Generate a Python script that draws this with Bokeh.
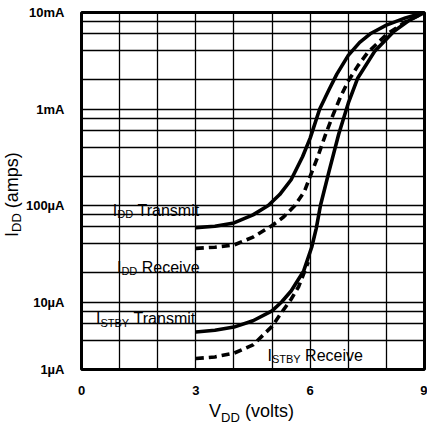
from bokeh.plotting import figure
from bokeh.models import FixedTicker, Label, Range1d, Div
from bokeh.layouts import column, row
from bokeh.embed import file_html
from bokeh.resources import INLINE

# ---------------- data ----------------
idd_tx_v = [3.0, 3.5, 4.0, 4.5, 4.9, 5.2, 5.5, 5.8, 6.0, 6.25, 6.5, 6.7, 7.0, 7.3, 7.6, 8.0, 8.5, 9.0]
idd_tx_i = [5.9e-5, 6.1e-5, 6.6e-5, 8.0e-5, 1.0e-4, 1.3e-4, 1.85e-4, 3.2e-4, 5.0e-4, 1.0e-3,
            1.6e-3, 2.3e-3, 3.6e-3, 4.9e-3, 6.1e-3, 7.4e-3, 8.8e-3, 1.0e-2]

idd_rx_v = [3.0, 3.5, 4.0, 4.5, 5.0, 5.3, 5.6, 5.85, 6.0, 6.2, 6.4, 6.6, 6.8, 7.0, 7.25, 7.5, 8.0, 8.5, 9.0]
idd_rx_i = [3.6e-5, 3.7e-5, 3.9e-5, 4.7e-5, 6.2e-5, 7.6e-5, 1.0e-4, 1.4e-4, 2.0e-4, 3.2e-4,
            5.4e-4, 8.7e-4, 1.35e-3, 1.95e-3, 2.8e-3, 3.8e-3, 5.9e-3, 8.0e-3, 1.0e-2]

stby_tx_v = [3.0, 3.5, 4.0, 4.5, 5.0, 5.25, 5.5, 5.83, 6.04, 6.16, 6.27, 6.5, 6.75, 7.0, 7.25, 7.7, 8.2, 8.6, 9.0]
stby_tx_i = [4.9e-6, 5.1e-6, 5.5e-6, 6.4e-6, 8.1e-6, 1.0e-5, 1.3e-5, 2.1e-5, 3.7e-5, 5.8e-5,
             1.0e-4, 2.3e-4, 5.5e-4, 1.15e-3, 2.1e-3, 4.0e-3, 6.4e-3, 8.3e-3, 1.0e-2]

stby_rx_v = [3.0, 3.5, 4.0, 4.5, 5.0, 5.25, 5.5, 5.7, 5.95]
stby_rx_i = [2.6e-6, 2.7e-6, 2.95e-6, 3.6e-6, 5.6e-6, 7.8e-6, 1.07e-5, 1.45e-5, 2.6e-5]

x_ticks = [0, 3, 6, 9]
y_ticks = [2e-6, 1e-5, 1e-4, 1e-3, 1e-2]
y_tick_labels = ["1µA", "10µA", "100µA", "1mA", "10mA"]

x_grid = list(range(0, 10))
y_grid = [m * 10.0 ** k for k in range(-6, -2) for m in (1, 2, 4, 6, 8)
          if 2e-6 <= m * 10.0 ** k <= 1e-2] + [1e-2]

# curve label texts: (main, subscript, rest)
label_texts = [("I", "DD", "Transmit"), ("I", "DD", "Receive"),
               ("I", "STBY", "Transmit"), ("I", "STBY", "Receive")]
x_title = ("V", "DD", "(volts)")
y_title = ("I", "DD", "(amps)")

# ---------------- styling / layout ----------------
FONT = "Liberation Sans"
W = {'I': 278, 'D': 722, 'T': 611, 'r': 333, 'a': 556, 'n': 556, 's': 500, 'm': 833,
     'i': 222, 't': 278, ' ': 278, 'R': 722, 'e': 556, 'c': 500, 'v': 500, 'S': 667,
     'B': 667, 'Y': 667, 'V': 667, '(': 333, ')': 333, 'o': 556, 'l': 222, 'p': 556}


def tw(s, size):
    return sum(W.get(c, 556) for c in s) * size / 1000.0


P_H = 397
p = figure(width=405, height=P_H, x_range=Range1d(0, 9), y_range=Range1d(2e-6, 1e-2),
           y_axis_type="log", output_backend="svg", toolbar_location=None,
           min_border_left=57, min_border_right=3, min_border_top=12, min_border_bottom=25)
p.margin = (0, 0, 0, 0)
p.background_fill_color = "white"
p.border_fill_color = "white"
p.outline_line_color = "black"
p.outline_line_width = 3

for ax in (p.xaxis, p.yaxis):
    ax.axis_line_color = None
    ax.major_tick_line_color = None
    ax.minor_tick_line_color = None
    ax.major_label_text_font = FONT
    ax.major_label_text_font_style = "bold"
    ax.major_label_text_font_size = "13px"
    ax.major_label_text_color = "black"

p.xaxis.ticker = FixedTicker(ticks=x_ticks)
p.xaxis.major_label_standoff = 10
p.yaxis.ticker = FixedTicker(ticks=y_ticks)
p.yaxis.major_label_overrides = dict(zip(y_ticks, y_tick_labels))
p.yaxis.major_label_standoff = 11

p.xgrid.ticker = FixedTicker(ticks=x_grid)
p.ygrid.ticker = FixedTicker(ticks=y_grid)
for g in (p.xgrid, p.ygrid):
    g.grid_line_color = "black"
    g.grid_line_width = 1.3
    g.grid_line_alpha = 1.0

LW = 3.6
p.line(idd_tx_v, idd_tx_i, line_color="black", line_width=LW)
p.line(idd_rx_v, idd_rx_i, line_color="black", line_width=LW, line_dash="8 5")
p.line(stby_tx_v, stby_tx_i, line_color="black", line_width=LW)
p.line(stby_rx_v, stby_rx_i, line_color="black", line_width=LW, line_dash="8 5")


def composite(x, y, parts, size, sub_size, sub_drop):
    """Draw main text + subscript + rest as adjacent labels on a white box."""
    main, sub, rest = parts
    pieces = [(main, size, 0.0, 0.0), (sub, sub_size, -sub_drop, 0.0),
              (rest, size, 0.0, tw(" ", size))]
    adv = 0.0
    specs = []
    for text, fs, drop, gap in pieces:
        adv += gap
        specs.append(dict(x=x, y=y, text=text, text_font=FONT, text_font_size=f"{fs}px",
                          text_color="black", text_align="left", text_baseline="middle",
                          x_offset=adv, y_offset=drop))
        adv += tw(text, fs)
    for kw in specs:
        p.add_layout(Label(**kw, text_alpha=0.0, background_fill_color="white",
                           background_fill_alpha=1.0, padding=3))
    for kw in specs:
        p.add_layout(Label(**kw))


# positions (x in volts, y in amps) of the curve labels
label_pos = [(0.82, 8.9e-5), (0.93, 2.3e-5), (0.38, 6.7e-6), (4.88, 2.8e-6)]
for (lx, ly), parts in zip(label_pos, label_texts):
    composite(lx, ly, parts, 16, 11, 4)

# axis titles (HTML so that the subscripts are real text)
title_style = {"font-family": FONT, "font-size": "18px", "color": "black"}


def title_html(parts):
    main, sub, rest = parts
    return f'{main}<sub style="font-size:13px">{sub}</sub> {rest}'


ydiv = Div(text=title_html(y_title), width=22, height=P_H, margin=(0, 0, 0, 0),
           styles=dict(title_style, **{"writing-mode": "vertical-rl",
                                       "transform": "rotate(180deg)",
                                       "text-align": "center",
                                       "padding-top": "8px"}))
xdiv = Div(text=title_html(x_title), width=345, height=21, margin=(2, 0, 0, 79),
           styles=dict(title_style, **{"text-align": "center"}))

layout = column(row(ydiv, p, spacing=0), xdiv, spacing=0)

open("out.html", "w").write(file_html(layout, INLINE))
